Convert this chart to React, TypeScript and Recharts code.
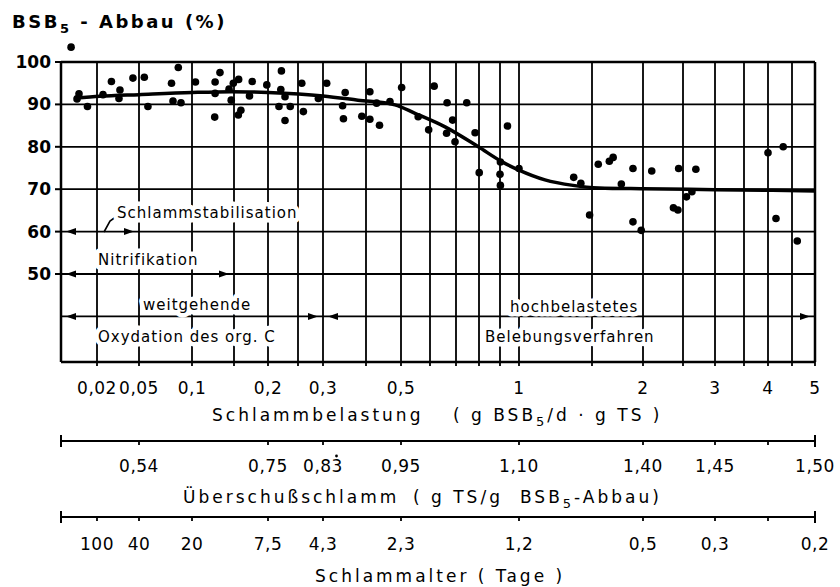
import React from "react";
import { ComposedChart, Line, ReferenceLine, Scatter, XAxis, YAxis } from "recharts";

const FONT = '"DejaVu Sans", sans-serif';

// the load axis of the original is neither linear nor logarithmic:
// grid values and where they sit along the 754px wide axis
const scaleLoads = [0, 0.02, 0.05, 0.1, 0.15, 0.2, 0.25, 0.3, 0.4, 0.5, 0.6, 0.7, 0.8, 0.9, 1, 1.5, 2, 2.5, 3, 3.5, 4, 4.5, 5];
const scaleOffsets = [0, 36, 78, 131, 173, 207, 237, 262, 305, 340, 369, 395, 418, 439, 458, 531, 582, 622, 654, 683, 707, 731, 754];

const removalTicks = [50, 60, 70, 80, 90, 100];
const removalGrid = [40, 50, 60, 70, 80, 90];

const loadTicks = [0.02, 0.05, 0.1, 0.2, 0.3, 0.5, 1, 2, 3, 4, 5];
const loadLabels = ["0,02", "0,05", "0,1", "0,2", "0,3", "0,5", "1", "2", "3", "4", "5"];

// "0,83*" = 0,83 periodic (dot over the last digit)
const excessTicks = [0, 0.05, 0.2, 0.3, 0.5, 1, 2, 3, 4, 5];
const excessLabels = ["", "0,54", "0,75", "0,83*", "0,95", "1,10", "1,40", "1,45", "", "1,50"];

const ageTicks = [0, 0.02, 0.05, 0.1, 0.2, 0.3, 0.5, 1, 2, 3, 4, 5];
const ageLabels = ["", "100", "40", "20", "7,5", "4,3", "2,3", "1,2", "0,5", "0,3", "", "0,2"];

// measured plants: Schlammbelastung / BSB5-Abbau
const pointLoad = [
  0.0056, 0.01, 0.0089, 0.0147, 0.0228, 0.0274, 0.033, 0.0323, 0.0438, 0.0536,
  0.0562, 0.0836, 0.0765, 0.078, 0.0866, 0.1034, 0.1245, 0.131, 0.125, 0.125,
  0.146, 0.143, 0.149, 0.156, 0.1556, 0.159, 0.171, 0.175, 0.198, 0.221,
  0.22, 0.217, 0.236, 0.227, 0.227, 0.257, 0.26, 0.3075, 0.29, 0.344,
  0.348, 0.342, 0.389, 0.41, 0.41, 0.436, 0.466, 0.502, 0.428, 0.557,
  0.615, 0.595, 0.664, 0.745, 0.686, 0.662, 0.696, 0.782, 0.938, 0.801,
  0.9, 0.902, 0.902, 1.0, 1.355, 1.41, 1.554, 1.654, 1.69, 1.89,
  2.1, 1.77, 2.44, 2.69, 1.48, 1.89, 1.98, 2.37, 2.43, 2.55,
  2.63, 4.0, 4.31, 4.16, 4.61,
];
const pointRemoval = [
  103.5, 92.5, 91.3, 89.5, 92.3, 95.4, 93.4, 91.4, 96.2, 96.4,
  89.5, 98.7, 95.0, 90.8, 90.4, 95.3, 87.0, 97.5, 95.3, 92.6,
  91.0, 93.6, 95.0, 95.9, 87.5, 88.6, 92.0, 95.4, 94.6, 97.9,
  93.5, 89.5, 89.5, 86.2, 91.8, 95.0, 88.3, 95.0, 91.4, 86.6,
  92.8, 89.7, 87.2, 93.0, 86.5, 85.1, 90.7, 94.0, 90.3, 87.1,
  94.3, 84.0, 90.4, 90.4, 86.3, 83.2, 81.2, 83.3, 84.9, 73.9,
  73.5, 70.9, 76.4, 74.9, 72.8, 71.4, 75.9, 76.6, 77.5, 74.9,
  74.3, 71.2, 74.9, 74.7, 63.9, 62.3, 60.3, 65.6, 65.1, 68.2,
  69.4, 78.6, 80.0, 63.1, 57.8,
];

// drawn mean curve
const curveLoad = [0.0083, 0.0213, 0.05, 0.1, 0.146, 0.2, 0.3, 0.379, 0.481, 0.546, 0.656, 0.797, 0.909, 1, 1.155, 1.35, 1.56, 2, 3, 5];
const curveRemoval = [91.5, 91.9, 92.3, 92.8, 93.0, 92.8, 92.0, 91.0, 89.9, 87.9, 84.7, 80.0, 76.5, 74.5, 72.2, 70.9, 70.3, 70.1, 69.9, 69.6];

// range arrows: [from, to, BSB5-Abbau line they sit on]
const arrowFrom = [0, 0, 0, 0.3];
const arrowTo = [0.05, 0.15, 0.3, 5];
const arrowLevel = [60, 50, 40, 40];

const Y_MIN = 29.25;
const Y_MAX = 105;
const U_MAX = scaleOffsets[scaleOffsets.length - 1];

function toU(v: number) {
  if (v <= scaleLoads[1]) return (v / scaleLoads[1]) * scaleOffsets[1];
  for (let i = 1; i < scaleLoads.length - 1; i++) {
    const a = scaleLoads[i];
    const b = scaleLoads[i + 1];
    if (v <= b) {
      const t = Math.log(v / a) / Math.log(b / a);
      return scaleOffsets[i] + t * (scaleOffsets[i + 1] - scaleOffsets[i]);
    }
  }
  return U_MAX;
}

const points = pointLoad.map((v, i) => ({ u: toU(v), y: pointRemoval[i] }));
const curve = curveLoad.map((v, i) => ({ u: toU(v), y: curveRemoval[i] }));
const gridU = scaleLoads.slice(1).map(toU);

function labelFor(values: number[], labels: string[], u: number) {
  const i = values.findIndex((v) => Math.abs(toU(v) - u) < 0.01);
  return i < 0 ? "" : labels[i];
}

const tickText = { fontFamily: FONT, fontSize: 17, fill: "#000", letterSpacing: 0.5 };

function makeTick(values: number[], labels: string[], labelDy: number, caps: boolean) {
  return (p: any) => {
    const u = p.payload.value;
    const raw = labelFor(values, labels, u);
    const periodic = raw.endsWith("*");
    const label = periodic ? raw.slice(0, -1) : raw;
    const isEnd = caps && (u < 0.01 || u > U_MAX - 0.01);
    return (
      <g>
        {isEnd ? (
          <line x1={p.x} x2={p.x} y1={p.y - 6} y2={p.y + 6} stroke="#000" strokeWidth={2} />
        ) : (
          <line x1={p.x} x2={p.x} y1={p.y} y2={p.y + 4} stroke="#000" strokeWidth={1.8} />
        )}
        {label && (
          <text x={p.x} y={p.y + labelDy} textAnchor="middle" {...tickText}>
            {label}
          </text>
        )}
        {periodic && <circle cx={p.x + 13.5} cy={p.y + labelDy - 16} r={1.4} fill="#000" />}
      </g>
    );
  };
}

function ArrowHeads(p: any) {
  const g = 5;
  const len = 10;
  const w = 3.5;
  const xl = Math.min(p.x1, p.x2) + g;
  const xr = Math.max(p.x1, p.x2) - g;
  const y = p.y1;
  return (
    <g>
      <polygon points={`${xl},${y} ${xl + len},${y - w} ${xl + len},${y + w}`} fill="#000" />
      <polygon points={`${xr},${y} ${xr - len},${y - w} ${xr - len},${y + w}`} fill="#000" />
    </g>
  );
}

const halo = {
  stroke: "#fff",
  strokeWidth: 9,
  strokeLinejoin: "round" as const,
  paintOrder: "stroke" as const,
};
const note = { fontFamily: FONT, fontSize: 15, fill: "#000", letterSpacing: 1, ...halo };
const axisTitle = { fontFamily: FONT, fontSize: 17, fill: "#000", letterSpacing: 3 };

export default function App() {
  return (
    <div style={{ position: "absolute", left: 0, top: 0, width: 840, height: 587, background: "#fff" }}>
      <ComposedChart width={840} height={587} margin={{ top: 40.8, right: 25, bottom: 0, left: 0 }}>
        <XAxis
          xAxisId={0}
          type="number"
          dataKey="u"
          domain={[0, U_MAX]}
          allowDataOverflow
          ticks={gridU}
          interval={0}
          height={79}
          tickSize={0}
          tickMargin={0}
          tickLine={false}
          axisLine={{ stroke: "#000", strokeWidth: 2.5 }}
          tick={makeTick(loadTicks, loadLabels, 31.5, false)}
        />
        <XAxis
          xAxisId={1}
          type="number"
          dataKey="u"
          domain={[0, U_MAX]}
          allowDataOverflow
          ticks={excessTicks.map(toU)}
          interval={0}
          height={76}
          tickSize={0}
          tickMargin={0}
          tickLine={false}
          axisLine={{ stroke: "#000", strokeWidth: 2 }}
          tick={makeTick(excessTicks, excessLabels, 31, true)}
        />
        <XAxis
          xAxisId={2}
          type="number"
          dataKey="u"
          domain={[0, U_MAX]}
          allowDataOverflow
          ticks={ageTicks.map(toU)}
          interval={0}
          height={70}
          tickSize={0}
          tickMargin={0}
          tickLine={false}
          axisLine={{ stroke: "#000", strokeWidth: 2 }}
          tick={makeTick(ageTicks, ageLabels, 33, true)}
        />
        <YAxis
          type="number"
          dataKey="y"
          domain={[Y_MIN, Y_MAX]}
          allowDataOverflow
          ticks={removalTicks}
          interval={0}
          width={61}
          axisLine={false}
          tickSize={6}
          tickMargin={4}
          tickLine={{ stroke: "#000", strokeWidth: 2 }}
          tick={{ fontFamily: FONT, fontSize: 17, fontWeight: 700, fill: "#000" }}
        />

        {removalGrid.map((v) => (
          <ReferenceLine key={`h${v}`} y={v} stroke="#000" strokeWidth={1.8} ifOverflow="visible" />
        ))}
        <ReferenceLine y={100} stroke="#000" strokeWidth={2.5} ifOverflow="visible" />
        {gridU.slice(0, -1).map((u) => (
          <ReferenceLine
            key={`v${u}`}
            segment={[{ x: u, y: Y_MIN }, { x: u, y: 100 }]}
            stroke="#000"
            strokeWidth={1.8}
            ifOverflow="visible"
          />
        ))}
        {[0, U_MAX].map((u) => (
          <ReferenceLine
            key={`b${u}`}
            segment={[{ x: u, y: Y_MIN }, { x: u, y: 100 }]}
            stroke="#000"
            strokeWidth={2.5}
            ifOverflow="visible"
          />
        ))}
        {arrowFrom.map((from, i) => (
          <ReferenceLine
            key={`a${i}`}
            segment={[{ x: toU(from), y: arrowLevel[i] }, { x: toU(arrowTo[i]), y: arrowLevel[i] }]}
            stroke="#000"
            strokeWidth={1.8}
            ifOverflow="visible"
            shape={ArrowHeads}
          />
        ))}

        <Line
          data={curve}
          dataKey="y"
          type="monotone"
          stroke="#000"
          strokeWidth={3.5}
          dot={false}
          activeDot={false}
          isAnimationActive={false}
        />
        <Scatter
          data={points}
          dataKey="y"
          fill="#000"
          isAnimationActive={false}
          shape={(p: any) => <circle cx={p.cx} cy={p.cy} r={3.8} fill="#000" />}
        />
      </ComposedChart>

      <svg width={840} height={587} style={{ position: "absolute", left: 0, top: 0, pointerEvents: "none" }}>
        <text x={12} y={28} fontFamily={FONT} fontSize={18} fontWeight={700} letterSpacing={2.5}>
          BSB
          <tspan dy={5} fontSize={13}>5</tspan>
          <tspan dy={-5}> - Abbau (%)</tspan>
        </text>

        <path d="M104,232 L110,221 L117,216" fill="none" stroke="#000" strokeWidth={1.6} />
        <text x={117} y={218} {...note}>Schlammstabilisation</text>
        <text x={98} y={265} {...note}>Nitrifikation</text>
        <text x={143} y={310} {...note}>weitgehende</text>
        <text x={98} y={342} {...note}>Oxydation des org. C</text>
        <text x={510} y={312} {...note}>hochbelastetes</text>
        <text x={485} y={342} {...note}>Belebungsverfahren</text>

        <text x={212} y={421} {...axisTitle}>Schlammbelastung</text>
        <text x={453} y={421} {...axisTitle}>
          ( g BSB
          <tspan dy={5} fontSize={13}>5</tspan>
          <tspan dy={-5}>/d · g TS )</tspan>
        </text>
        <text x={183} y={503} {...axisTitle}>Überschußschlamm</text>
        <text x={413} y={503} {...axisTitle}>( g TS/g</text>
        <text x={520} y={503} {...axisTitle}>
          BSB
          <tspan dy={5} fontSize={13}>5</tspan>
          <tspan dy={-5}>-Abbau)</tspan>
        </text>
        <text x={315} y={582} {...axisTitle}>Schlammalter ( Tage )</text>
      </svg>
    </div>
  );
}
